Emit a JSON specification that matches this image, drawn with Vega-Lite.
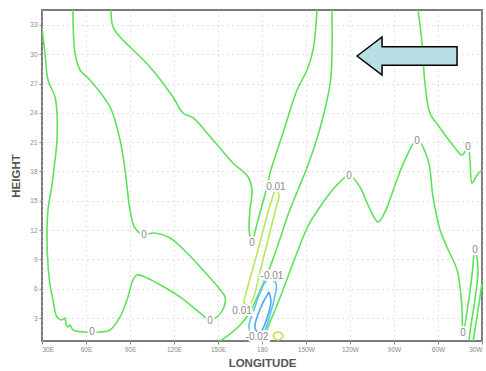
{
  "$schema": "https://vega.github.io/schema/vega-lite/v6.json",
  "width": 440,
  "height": 331,
  "autosize": {"type": "none"},
  "padding": {"left": 42, "top": 10, "right": 4, "bottom": 30},
  "background": "white",
  "config": {
    "view": {"stroke": "#7a7a7a", "strokeWidth": 2},
    "axis": {
      "domain": false,
      "grid": true,
      "gridColor": "#c4c4c4",
      "gridDash": [1, 4],
      "gridWidth": 1,
      "tickColor": "#888",
      "tickSize": 3,
      "labelFont": "Liberation Sans",
      "labelFontSize": 6.5,
      "labelColor": "#8a8a8a",
      "labelPadding": 2,
      "labelOverlap": false,
      "titleFont": "Liberation Sans",
      "titleFontSize": 11.5,
      "titleFontWeight": "bold",
      "titleColor": "#555"
    },
    "axisY": {"labelOverlap": false}
  },
  "datasets": {
    "lines": [
      {"id":"A","o":1,"lvl":"0","lon":30,"h":32.69},
      {"id":"A","o":2,"lvl":"0","lon":32.0,"h":30.13},
      {"id":"A","o":3,"lvl":"0","lon":34.1,"h":27.37},
      {"id":"A","o":4,"lvl":"0","lon":38.9,"h":25.63},
      {"id":"A","o":5,"lvl":"0","lon":40.2,"h":23.99},
      {"id":"A","o":6,"lvl":"0","lon":40.2,"h":21.22},
      {"id":"A","o":7,"lvl":"0","lon":38.9,"h":19.18},
      {"id":"A","o":8,"lvl":"0","lon":36.8,"h":16.62},
      {"id":"A","o":9,"lvl":"0","lon":34.1,"h":14.06},
      {"id":"A","o":10,"lvl":"0","lon":33.4,"h":11.30},
      {"id":"A","o":11,"lvl":"0","lon":34.1,"h":8.43},
      {"id":"A","o":12,"lvl":"0","lon":35.5,"h":6.38},
      {"id":"A","o":13,"lvl":"0","lon":37.5,"h":4.85},
      {"id":"A","o":14,"lvl":"0","lon":40.2,"h":3.11},
      {"id":"A","o":15,"lvl":"0","lon":43.6,"h":2.80},
      {"id":"A","o":16,"lvl":"0","lon":45.7,"h":3.01},
      {"id":"A","o":17,"lvl":"0","lon":46.3,"h":2.39},
      {"id":"A","o":18,"lvl":"0","lon":47.7,"h":2.08},
      {"id":"A","o":19,"lvl":"0","lon":49.1,"h":2.29},
      {"id":"A","o":20,"lvl":"0","lon":51.1,"h":1.78},
      {"id":"A","o":21,"lvl":"0","lon":59.3,"h":1.57},
      {"id":"A","o":22,"lvl":"0","lon":69.5,"h":1.57},
      {"id":"A","o":23,"lvl":"0","lon":76.4,"h":1.78},
      {"id":"A","o":24,"lvl":"0","lon":83.2,"h":3.11},
      {"id":"A","o":25,"lvl":"0","lon":88.6,"h":5.16},
      {"id":"A","o":26,"lvl":"0","lon":92.0,"h":6.89},
      {"id":"A","o":27,"lvl":"0","lon":94.8,"h":7.41},
      {"id":"A","o":28,"lvl":"0","lon":100.2,"h":7.20},
      {"id":"A","o":29,"lvl":"0","lon":108.4,"h":6.59},
      {"id":"A","o":30,"lvl":"0","lon":124.1,"h":5.16},
      {"id":"A","o":31,"lvl":"0","lon":137.7,"h":3.52},
      {"id":"A","o":32,"lvl":"0","lon":144.5,"h":2.80},
      {"id":"A","o":33,"lvl":"0","lon":150.0,"h":3.21},
      {"id":"A","o":34,"lvl":"0","lon":154.1,"h":4.13},
      {"id":"A","o":35,"lvl":"0","lon":154.8,"h":5.16},
      {"id":"A","o":36,"lvl":"0","lon":152.7,"h":5.67},
      {"id":"A","o":37,"lvl":"0","lon":139.8,"h":7.92},
      {"id":"A","o":38,"lvl":"0","lon":128.9,"h":9.66},
      {"id":"A","o":39,"lvl":"0","lon":117.3,"h":11.20},
      {"id":"A","o":40,"lvl":"0","lon":105.7,"h":11.71},
      {"id":"A","o":41,"lvl":"0","lon":99.5,"h":11.50},
      {"id":"A","o":42,"lvl":"0","lon":93.4,"h":12.22},
      {"id":"A","o":43,"lvl":"0","lon":90.0,"h":14.06},
      {"id":"A","o":44,"lvl":"0","lon":88.0,"h":16.41},
      {"id":"A","o":45,"lvl":"0","lon":86.6,"h":18.15},
      {"id":"A","o":46,"lvl":"0","lon":83.2,"h":21.22},
      {"id":"A","o":47,"lvl":"0","lon":76.4,"h":24.60},
      {"id":"A","o":48,"lvl":"0","lon":62.7,"h":27.37},
      {"id":"A","o":49,"lvl":"0","lon":55.9,"h":28.39},
      {"id":"A","o":50,"lvl":"0","lon":52.5,"h":30.13},
      {"id":"A","o":51,"lvl":"0","lon":51.1,"h":34.53},

      {"id":"B","o":1,"lvl":"0","lon":77.0,"h":34.53},
      {"id":"B","o":2,"lvl":"0","lon":78.4,"h":32.79},
      {"id":"B","o":3,"lvl":"0","lon":83.2,"h":31.77},
      {"id":"B","o":4,"lvl":"0","lon":90.0,"h":30.74},
      {"id":"B","o":5,"lvl":"0","lon":103.6,"h":28.70},
      {"id":"B","o":6,"lvl":"0","lon":119.3,"h":25.63},
      {"id":"B","o":7,"lvl":"0","lon":126.1,"h":23.99},
      {"id":"B","o":8,"lvl":"0","lon":133.0,"h":23.48},
      {"id":"B","o":9,"lvl":"0","lon":146.6,"h":21.22},
      {"id":"B","o":10,"lvl":"0","lon":160.2,"h":18.87},
      {"id":"B","o":11,"lvl":"0","lon":170.5,"h":17.44},
      {"id":"B","o":12,"lvl":"0","lon":173.2,"h":16.11},
      {"id":"B","o":13,"lvl":"0","lon":171.8,"h":14.06},
      {"id":"B","o":14,"lvl":"0","lon":171.2,"h":12.01},
      {"id":"B","o":15,"lvl":"0","lon":173.2,"h":10.68},
      {"id":"B","o":16,"lvl":"0","lon":175.2,"h":11.81},
      {"id":"B","o":17,"lvl":"0","lon":178.6,"h":13.75},
      {"id":"B","o":18,"lvl":"0","lon":183.4,"h":16.41},
      {"id":"B","o":19,"lvl":"0","lon":185.5,"h":17.85},
      {"id":"B","o":20,"lvl":"0","lon":194.3,"h":21.94},
      {"id":"B","o":21,"lvl":"0","lon":203.9,"h":26.34},
      {"id":"B","o":22,"lvl":"0","lon":210.7,"h":28.39},
      {"id":"B","o":23,"lvl":"0","lon":214.8,"h":30.44},
      {"id":"B","o":24,"lvl":"0","lon":217.5,"h":34.53},

      {"id":"C","o":1,"lvl":"0","lon":227.7,"h":34.53},
      {"id":"C","o":2,"lvl":"0","lon":227.0,"h":27.67},
      {"id":"C","o":3,"lvl":"0","lon":223.6,"h":24.81},
      {"id":"C","o":4,"lvl":"0","lon":218.2,"h":21.74},
      {"id":"C","o":5,"lvl":"0","lon":211.4,"h":18.67},
      {"id":"C","o":6,"lvl":"0","lon":204.5,"h":16.11},
      {"id":"C","o":7,"lvl":"0","lon":197.7,"h":13.55},
      {"id":"C","o":8,"lvl":"0","lon":190.9,"h":10.48},
      {"id":"C","o":9,"lvl":"0","lon":184.1,"h":7.71},
      {"id":"C","o":10,"lvl":"0","lon":177.3,"h":5.36},
      {"id":"C","o":11,"lvl":"0","lon":171.8,"h":3.62},
      {"id":"C","o":12,"lvl":"0","lon":165.7,"h":2.39},
      {"id":"C","o":13,"lvl":"0","lon":158.2,"h":1.37},
      {"id":"C","o":14,"lvl":"0","lon":151.4,"h":0.65},

      {"id":"F","o":1,"lvl":"0","lon":181.4,"h":0.65},
      {"id":"F","o":2,"lvl":"0","lon":184.1,"h":2.08},
      {"id":"F","o":3,"lvl":"0","lon":189.5,"h":4.03},
      {"id":"F","o":4,"lvl":"0","lon":194.3,"h":5.87},
      {"id":"F","o":5,"lvl":"0","lon":202.5,"h":9.15},
      {"id":"F","o":6,"lvl":"0","lon":211.4,"h":12.42},
      {"id":"F","o":7,"lvl":"0","lon":219.5,"h":14.37},
      {"id":"F","o":8,"lvl":"0","lon":226.4,"h":15.80},
      {"id":"F","o":9,"lvl":"0","lon":233.2,"h":16.93},
      {"id":"F","o":10,"lvl":"0","lon":239.3,"h":17.64},
      {"id":"F","o":11,"lvl":"0","lon":246.8,"h":16.41},
      {"id":"F","o":12,"lvl":"0","lon":252.3,"h":14.57},
      {"id":"F","o":13,"lvl":"0","lon":259.1,"h":12.83},
      {"id":"F","o":14,"lvl":"0","lon":263.9,"h":13.86},
      {"id":"F","o":15,"lvl":"0","lon":270.7,"h":16.62},
      {"id":"F","o":16,"lvl":"0","lon":277.5,"h":19.18},
      {"id":"F","o":17,"lvl":"0","lon":285.7,"h":21.22},
      {"id":"F","o":18,"lvl":"0","lon":293.2,"h":19.18},
      {"id":"F","o":19,"lvl":"0","lon":296.6,"h":15.39},
      {"id":"F","o":20,"lvl":"0","lon":301.4,"h":12.01},
      {"id":"F","o":21,"lvl":"0","lon":306.1,"h":10.27},
      {"id":"F","o":22,"lvl":"0","lon":313.0,"h":7.92},
      {"id":"F","o":23,"lvl":"0","lon":315.0,"h":6.18},
      {"id":"F","o":24,"lvl":"0","lon":316.4,"h":3.83},
      {"id":"F","o":25,"lvl":"0","lon":317.0,"h":1.47},
      {"id":"F","o":26,"lvl":"0","lon":320.5,"h":4.34},
      {"id":"F","o":27,"lvl":"0","lon":323.2,"h":7.41},
      {"id":"F","o":28,"lvl":"0","lon":325.2,"h":9.97},
      {"id":"F","o":29,"lvl":"0","lon":327.3,"h":8.12},
      {"id":"F","o":30,"lvl":"0","lon":325.2,"h":4.85},
      {"id":"F","o":31,"lvl":"0","lon":322.5,"h":2.29},
      {"id":"F","o":32,"lvl":"0","lon":321.1,"h":0.65},

      {"id":"G","o":1,"lvl":"0","lon":323.9,"h":0.65},
      {"id":"G","o":2,"lvl":"0","lon":326.6,"h":3.11},
      {"id":"G","o":3,"lvl":"0","lon":330.0,"h":6.59},

      {"id":"D","o":1,"lvl":"0","lon":286.4,"h":34.53},
      {"id":"D","o":2,"lvl":"0","lon":289.1,"h":31.15},
      {"id":"D","o":3,"lvl":"0","lon":291.1,"h":27.06},
      {"id":"D","o":4,"lvl":"0","lon":294.5,"h":23.99},
      {"id":"D","o":5,"lvl":"0","lon":301.4,"h":22.45},
      {"id":"D","o":6,"lvl":"0","lon":311.6,"h":20.41},
      {"id":"D","o":7,"lvl":"0","lon":316.4,"h":19.69},
      {"id":"D","o":8,"lvl":"0","lon":320.5,"h":20.51},
      {"id":"D","o":9,"lvl":"0","lon":321.8,"h":19.18},
      {"id":"D","o":10,"lvl":"0","lon":323.2,"h":16.82},
      {"id":"D","o":11,"lvl":"0","lon":326.6,"h":17.64},
      {"id":"D","o":12,"lvl":"0","lon":330.0,"h":18.15},

      {"id":"Y1","o":1,"lvl":"0.01","lon":188.9,"h":16.11},
      {"id":"Y1","o":2,"lvl":"0.01","lon":185.5,"h":14.57},
      {"id":"Y1","o":3,"lvl":"0.01","lon":180.0,"h":11.50},
      {"id":"Y1","o":4,"lvl":"0.01","lon":173.9,"h":8.12},
      {"id":"Y1","o":5,"lvl":"0.01","lon":168.4,"h":5.16},
      {"id":"Y1","o":6,"lvl":"0.01","lon":167.7,"h":4.54},
      {"id":"Y1","o":7,"lvl":"0.01","lon":171.1,"h":4.34},
      {"id":"Y1","o":8,"lvl":"0.01","lon":173.9,"h":4.95},
      {"id":"Y1","o":9,"lvl":"0.01","lon":178.6,"h":7.71},
      {"id":"Y1","o":10,"lvl":"0.01","lon":184.1,"h":10.99},
      {"id":"Y1","o":11,"lvl":"0.01","lon":189.5,"h":14.26},
      {"id":"Y1","o":12,"lvl":"0.01","lon":191.6,"h":15.70},
      {"id":"Y1","o":13,"lvl":"0.01","lon":188.9,"h":16.11},

      {"id":"Y2","o":1,"lvl":"0.01","lon":187.5,"h":1.17},
      {"id":"Y2","o":2,"lvl":"0.01","lon":188.9,"h":1.47},
      {"id":"Y2","o":3,"lvl":"0.01","lon":190.9,"h":1.57},
      {"id":"Y2","o":4,"lvl":"0.01","lon":193.0,"h":1.47},
      {"id":"Y2","o":5,"lvl":"0.01","lon":194.3,"h":1.17},
      {"id":"Y2","o":6,"lvl":"0.01","lon":193.0,"h":0.86},
      {"id":"Y2","o":7,"lvl":"0.01","lon":190.9,"h":0.76},
      {"id":"Y2","o":8,"lvl":"0.01","lon":188.9,"h":0.86},
      {"id":"Y2","o":9,"lvl":"0.01","lon":187.5,"h":1.17},

      {"id":"N1","o":1,"lvl":"-0.01","lon":184.1,"h":7.00},
      {"id":"N1","o":2,"lvl":"-0.01","lon":189.5,"h":6.59},
      {"id":"N1","o":3,"lvl":"-0.01","lon":188.2,"h":4.85},
      {"id":"N1","o":4,"lvl":"-0.01","lon":184.8,"h":3.01},
      {"id":"N1","o":5,"lvl":"-0.01","lon":181.4,"h":1.57},
      {"id":"N1","o":6,"lvl":"-0.01","lon":177.3,"h":1.06},
      {"id":"N1","o":7,"lvl":"-0.01","lon":172.5,"h":1.47},
      {"id":"N1","o":8,"lvl":"-0.01","lon":171.1,"h":2.19},
      {"id":"N1","o":9,"lvl":"-0.01","lon":174.5,"h":3.83},
      {"id":"N1","o":10,"lvl":"-0.01","lon":178.6,"h":5.56},
      {"id":"N1","o":11,"lvl":"-0.01","lon":181.4,"h":6.49},
      {"id":"N1","o":12,"lvl":"-0.01","lon":184.1,"h":7.00},

      {"id":"N2","o":1,"lvl":"-0.02","lon":184.8,"h":5.67},
      {"id":"N2","o":2,"lvl":"-0.02","lon":186.1,"h":4.64},
      {"id":"N2","o":3,"lvl":"-0.02","lon":183.4,"h":3.01},
      {"id":"N2","o":4,"lvl":"-0.02","lon":180.0,"h":1.78},
      {"id":"N2","o":5,"lvl":"-0.02","lon":177.3,"h":1.57},
      {"id":"N2","o":6,"lvl":"-0.02","lon":175.2,"h":2.08},
      {"id":"N2","o":7,"lvl":"-0.02","lon":177.9,"h":3.62},
      {"id":"N2","o":8,"lvl":"-0.02","lon":182.0,"h":4.95},
      {"id":"N2","o":9,"lvl":"-0.02","lon":184.8,"h":5.67}
    ],
    "labels": [
      {"lab":"0","lon":64.1,"h":1.57},
      {"lab":"0","lon":144.5,"h":2.70},
      {"lab":"0","lon":99.5,"h":11.50},
      {"lab":"0","lon":173.2,"h":10.68},
      {"lab":"0","lon":239.3,"h":17.54},
      {"lab":"0","lon":285.7,"h":21.12},
      {"lab":"0","lon":320.5,"h":20.51},
      {"lab":"0","lon":317.0,"h":1.47},
      {"lab":"0","lon":325.2,"h":9.97},
      {"lab":"0.01","lon":189.5,"h":16.41},
      {"lab":"0.01","lon":166.4,"h":3.72},
      {"lab":"-0.01","lon":186.8,"h":7.30},
      {"lab":"-0.02","lon":176.6,"h":1.06}
    ],
    "arrow": [
      {"lon": 278.9, "h": 29.82}
    ]
  },
  "encoding": {
    "x": {
      "field": "lon", "type": "quantitative",
      "scale": {"domain": [30, 330], "nice": false, "zero": false},
      "axis": {
        "values": [30, 60, 90, 120, 150, 180, 210, 240, 270, 300, 330],
        "labelExpr": "datum.value < 180 ? datum.value + 'E' : (datum.value == 180 ? '180' : (360 - datum.value) + 'W')",
        "labelOverlap": false,
        "title": "LONGITUDE",
        "titlePadding": 5
      }
    },
    "y": {
      "field": "h", "type": "quantitative",
      "scale": {"domain": [0.65, 34.53], "nice": false, "zero": false},
      "axis": {
        "values": [3, 6, 9, 12, 15, 18, 21, 24, 27, 30, 33],
        "labelOverlap": false,
        "title": "HEIGHT",
        "titlePadding": 8
      }
    }
  },
  "layer": [
    {
      "data": {"name": "lines"},
      "mark": {"type": "line", "strokeWidth": 1.6, "interpolate": "catmull-rom", "clip": true},
      "encoding": {
        "color": {
          "field": "lvl", "type": "nominal",
          "scale": {"domain": ["0", "0.01", "-0.01", "-0.02"], "range": ["#5ee25a", "#b9e85c", "#5cc3f2", "#4aaaf0"]},
          "legend": null
        },
        "detail": {"field": "id"},
        "order": {"field": "o", "type": "quantitative"}
      }
    },
    {
      "data": {"name": "labels"},
      "mark": {"type": "text", "fontSize": 10, "font": "Liberation Sans", "fill": "#ffffff", "stroke": "#ffffff", "strokeWidth": 4, "baseline": "middle", "align": "center"},
      "encoding": {
        "text": {"field": "lab"}
      }
    },
    {
      "data": {"name": "labels"},
      "mark": {"type": "text", "fontSize": 10, "font": "Liberation Sans", "fill": "#8a8a8a", "baseline": "middle", "align": "center"},
      "encoding": {
        "text": {"field": "lab"}
      }
    },
    {
      "data": {"name": "arrow"},
      "mark": {
        "type": "point",
        "shape": "M -1 0 L -0.5 -0.38 L -0.5 -0.184 L 1 -0.184 L 1 0.184 L -0.5 0.184 L -0.5 0.38 Z",
        "size": 10000,
        "filled": true,
        "fill": "#b8dfe3",
        "stroke": "#000000",
        "strokeWidth": 1.5,
        "opacity": 1
      },
      "encoding": {}
    }
  ]
}
